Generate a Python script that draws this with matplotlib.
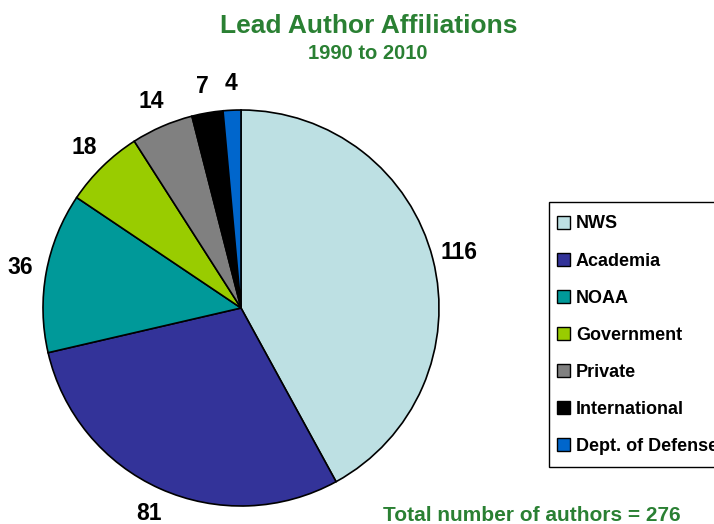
import matplotlib
matplotlib.use("Agg")
import matplotlib.pyplot as plt
from matplotlib.patches import Rectangle

categories = ["NWS", "Academia", "NOAA", "Government", "Private", "International", "Dept. of Defense"]
values = [116, 81, 36, 18, 14, 7, 4]
colors = ["#BDE0E3", "#333399", "#009999", "#99CC00", "#808080", "#000000", "#0066CC"]
title = "Lead Author Affiliations"
subtitle = "1990 to 2010"
footer = "Total number of authors = 276"

plt.rcParams['font.family'] = ['Liberation Sans', 'DejaVu Sans']
plt.rcParams['font.weight'] = 'bold'

W, H = 714, 524
fig = plt.figure(figsize=(W / 100, H / 100), dpi=100)
cx, cy, R = 241, 308, 200
ax = fig.add_axes([(cx - R) / W, (H - cy - R) / H, 2 * R / W, 2 * R / H])
total = sum(values)
wedges, texts, autotexts = ax.pie(
    values, colors=colors, startangle=90, counterclock=False, radius=0.99,
    wedgeprops=dict(edgecolor="black", linewidth=1.2),
    autopct=lambda p: f"{round(p * total / 100)}", pctdistance=1.135,
    textprops=dict(fontsize=16.5, fontweight="bold", color="black"))
ax.set_xlim(-1, 1)
ax.set_ylim(-1, 1)
ax.set_aspect("equal")
ax.axis("off")

green = "#2A8033"
fig.text(369 / W, 1 - 33 / H, title, ha="center", va="baseline", fontsize=19, fontweight="bold", color=green)
fig.text(368 / W, 1 - 59 / H, subtitle, ha="center", va="baseline", fontsize=14.5, fontweight="bold", color=green)
fig.text(532 / W, 1 - 521 / H, footer, ha="center", va="baseline", fontsize=15, fontweight="bold", color=green)

# legend frame (extends beyond the right edge, as in the reference)
fig.add_artist(Rectangle((549 / W, 1 - 466.7 / H), 220 / W, 265 / H, transform=fig.transFigure,
                         facecolor="white", edgecolor="black", linewidth=1.0, zorder=1))
leg = fig.legend(wedges, categories, loc="upper left", bbox_to_anchor=(557 / W, 1 - 215.5 / H),
                 frameon=False, prop=dict(size=13, weight="bold"), handlelength=0.7, handleheight=0.7,
                 handletextpad=0.35, labelspacing=1.11, borderpad=0, borderaxespad=0)
leg.set_zorder(2)
for h in leg.legend_handles:
    h.set_linewidth(1.0)
    h.set_edgecolor("black")

fig.savefig("out.png", dpi=100)
